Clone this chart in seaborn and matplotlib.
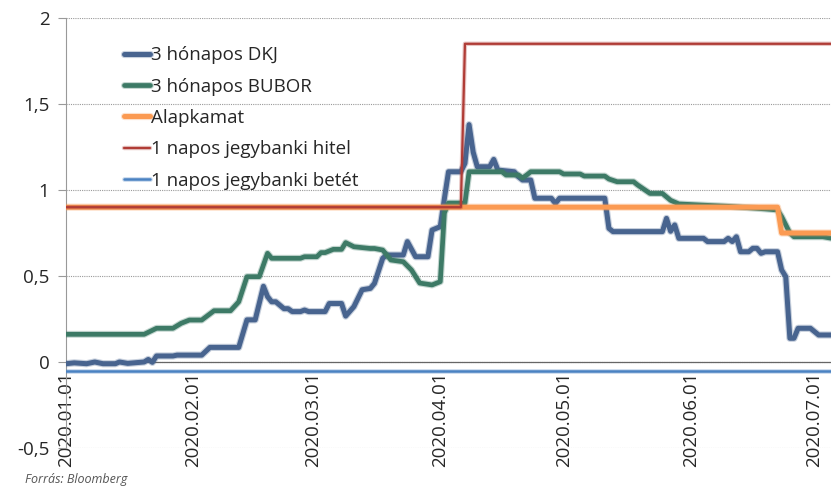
import pandas as pd
import seaborn as sns
import matplotlib
matplotlib.use("Agg")
import matplotlib.pyplot as plt
import matplotlib.dates as mdates
import matplotlib.patheffects as pe

# 3 hónapos DKJ
dkj_dates = ["2020-01-01", "2020-01-03", "2020-01-06", "2020-01-08", "2020-01-10", "2020-01-13",
             "2020-01-14", "2020-01-16", "2020-01-20", "2020-01-21", "2020-01-22", "2020-01-23",
             "2020-01-27", "2020-01-28", "2020-02-03", "2020-02-05", "2020-02-12", "2020-02-14",
             "2020-02-16", "2020-02-18", "2020-02-19", "2020-02-20", "2020-02-21", "2020-02-23",
             "2020-02-24", "2020-02-25", "2020-02-27", "2020-02-28", "2020-02-29", "2020-03-04",
             "2020-03-05", "2020-03-08", "2020-03-09", "2020-03-11", "2020-03-13", "2020-03-15",
             "2020-03-16", "2020-03-18", "2020-03-19", "2020-03-23", "2020-03-24", "2020-03-26",
             "2020-03-29", "2020-03-30", "2020-04-01", "2020-04-02", "2020-04-03", "2020-04-06",
             "2020-04-07", "2020-04-08", "2020-04-09", "2020-04-10", "2020-04-13", "2020-04-14",
             "2020-04-15", "2020-04-19", "2020-04-20", "2020-04-21", "2020-04-23", "2020-04-24",
             "2020-04-28", "2020-04-29", "2020-04-30", "2020-05-11", "2020-05-12", "2020-05-13",
             "2020-05-25", "2020-05-26", "2020-05-27", "2020-05-28", "2020-05-29", "2020-06-04",
             "2020-06-05", "2020-06-09", "2020-06-10", "2020-06-11", "2020-06-12", "2020-06-13",
             "2020-06-15", "2020-06-16", "2020-06-17", "2020-06-18", "2020-06-19", "2020-06-22",
             "2020-06-23", "2020-06-24", "2020-06-25", "2020-06-26", "2020-06-27", "2020-06-30",
             "2020-07-02", "2020-07-05"]
dkj = [-0.01, -0.005, -0.01, 0.0, -0.01, -0.01,
       0.0, -0.008, 0.0, 0.015, -0.002, 0.035,
       0.035, 0.04, 0.04, 0.085, 0.085, 0.245,
       0.245, 0.44, 0.38, 0.35, 0.35, 0.31,
       0.31, 0.293, 0.293, 0.302, 0.293, 0.293,
       0.34, 0.34, 0.267, 0.322, 0.42, 0.428,
       0.457, 0.603, 0.622, 0.622, 0.70, 0.612,
       0.612, 0.767, 0.787, 0.95, 1.106, 1.106,
       1.155, 1.38, 1.22, 1.135, 1.135, 1.178,
       1.116, 1.106, 1.077, 1.058, 1.058, 0.952,
       0.952, 0.922, 0.952, 0.952, 0.777, 0.758,
       0.758, 0.835, 0.76, 0.797, 0.719, 0.719,
       0.70, 0.70, 0.719, 0.70, 0.728, 0.641,
       0.641, 0.661, 0.661, 0.632, 0.641, 0.641,
       0.535, 0.496, 0.138, 0.138, 0.196, 0.196,
       0.157, 0.157]

# 3 hónapos BUBOR
bubor_dates = ["2020-01-01", "2020-01-20", "2020-01-23", "2020-01-27", "2020-01-29", "2020-01-31",
               "2020-02-03", "2020-02-06", "2020-02-10", "2020-02-12", "2020-02-14", "2020-02-17",
               "2020-02-19", "2020-02-20", "2020-02-27", "2020-02-28", "2020-03-02", "2020-03-03",
               "2020-03-04", "2020-03-06", "2020-03-08", "2020-03-09", "2020-03-11", "2020-03-15",
               "2020-03-16", "2020-03-18", "2020-03-20", "2020-03-23", "2020-03-25", "2020-03-27",
               "2020-03-30", "2020-04-01", "2020-04-02", "2020-04-03", "2020-04-07", "2020-04-08",
               "2020-04-16", "2020-04-17", "2020-04-20", "2020-04-21", "2020-04-22", "2020-04-23",
               "2020-04-30", "2020-05-01", "2020-05-05", "2020-05-06", "2020-05-11", "2020-05-12",
               "2020-05-14", "2020-05-18", "2020-05-19", "2020-05-22", "2020-05-25", "2020-05-27",
               "2020-05-29", "2020-06-03", "2020-06-10", "2020-06-19", "2020-06-22", "2020-06-23",
               "2020-06-25", "2020-06-26", "2020-07-03", "2020-07-05"]
bubor = [0.161, 0.161, 0.196, 0.196, 0.225, 0.244,
         0.244, 0.298, 0.298, 0.35, 0.496, 0.496,
         0.632, 0.603, 0.603, 0.612, 0.612, 0.636,
         0.636, 0.655, 0.655, 0.694, 0.67, 0.66,
         0.66, 0.651, 0.593, 0.583, 0.535, 0.459,
         0.448, 0.467, 0.866, 0.924, 0.924, 1.106,
         1.106, 1.087, 1.087, 1.07, 1.087, 1.106,
         1.106, 1.093, 1.093, 1.081, 1.081, 1.064,
         1.048, 1.048, 1.029, 0.98, 0.98, 0.94,
         0.919, 0.913, 0.905, 0.89, 0.884, 0.845,
         0.75, 0.728, 0.728, 0.72]

# Alapkamat
alap_dates = ["2020-01-01", "2020-06-22", "2020-06-23", "2020-07-05"]
alap = [0.9, 0.9, 0.75, 0.75]

# 1 napos jegybanki hitel
hitel_dates = ["2020-01-01", "2020-04-06", "2020-04-07", "2020-07-05"]
hitel = [0.9, 0.9, 1.85, 1.85]

# 1 napos jegybanki betét
betet_dates = ["2020-01-01", "2020-07-05"]
betet = [-0.05, -0.05]

series = [
    ("3 hónapos DKJ", dkj_dates, dkj, "#48648f", 3.6),
    ("3 hónapos BUBOR", bubor_dates, bubor, "#3d7a66", 3.4),
    ("Alapkamat", alap_dates, alap, "#fb9a52", 3.6),
    ("1 napos jegybanki hitel", hitel_dates, hitel, "#b03c36", 1.6),
    ("1 napos jegybanki betét", betet_dates, betet, "#4a82c2", 1.8),
]

sns.set_style("white")
plt.rcParams['font.family'] = ['Open Sans', 'DejaVu Sans']

fig = plt.figure(figsize=(8.31, 4.88), dpi=100)
ax = fig.add_axes([66 / 831, 1 - 448 / 488, 1 - 66 / 831, 430 / 488])

for i, (name, d, v, col, lw) in enumerate(series):
    df = pd.DataFrame({"date": pd.to_datetime(d), "value": v})
    sns.lineplot(data=df, x="date", y="value", ax=ax, color=col, linewidth=lw,
                 label=name, zorder=3 + i,
                 path_effects=[pe.Stroke(linewidth=lw + 1.6, foreground=col, alpha=0.3), pe.Normal()])

ax.set_xlim(pd.Timestamp("2020-01-01"), pd.Timestamp("2020-07-05"))
ax.set_ylim(-0.5, 2)
ax.set_yticks([-0.5, 0, 0.5, 1, 1.5, 2])
ax.set_yticklabels(["-0,5", "0", "0,5", "1", "1,5", "2"], fontsize=13.5)
ax.yaxis.grid(True, linestyle=(0, (1, 1)), color="#9a9a9a", linewidth=0.8)
ax.set_axisbelow(True)

ax.xaxis.set_major_locator(mdates.MonthLocator())
ax.xaxis.set_major_formatter(mdates.DateFormatter("%Y.%m.%d"))
ax.tick_params(axis="x", direction="inout", length=8, width=0.8, color="#777777",
               labelsize=13.5, labelrotation=90, pad=3)
ax.tick_params(axis="y", direction="out", length=6, width=0.8, color="#999999", pad=6, left=True)
for lab in ax.get_xticklabels():
    lab.set_fontfamily("DejaVu Sans")
ax.set_xlabel("")
ax.set_ylabel("")

ax.spines["top"].set_visible(False)
ax.spines["right"].set_visible(False)
ax.spines["bottom"].set_position(("data", 0))
ax.spines["bottom"].set_color("#666666")
ax.spines["bottom"].set_linewidth(0.9)
ax.spines["left"].set_color("#999999")
ax.spines["left"].set_linewidth(0.8)

leg = ax.legend(loc="upper left", bbox_to_anchor=(0.076, 0.934), frameon=False, fontsize=13.5,
                handlelength=1.4, handletextpad=0.05, labelspacing=0.71, borderpad=0, borderaxespad=0)

fig.text(25 / 831, 1 - 479 / 488, "Forrás: Bloomberg", fontsize=9, style="italic",
         color="#555555", va="center", ha="left")

fig.savefig("out.png", dpi=100)
